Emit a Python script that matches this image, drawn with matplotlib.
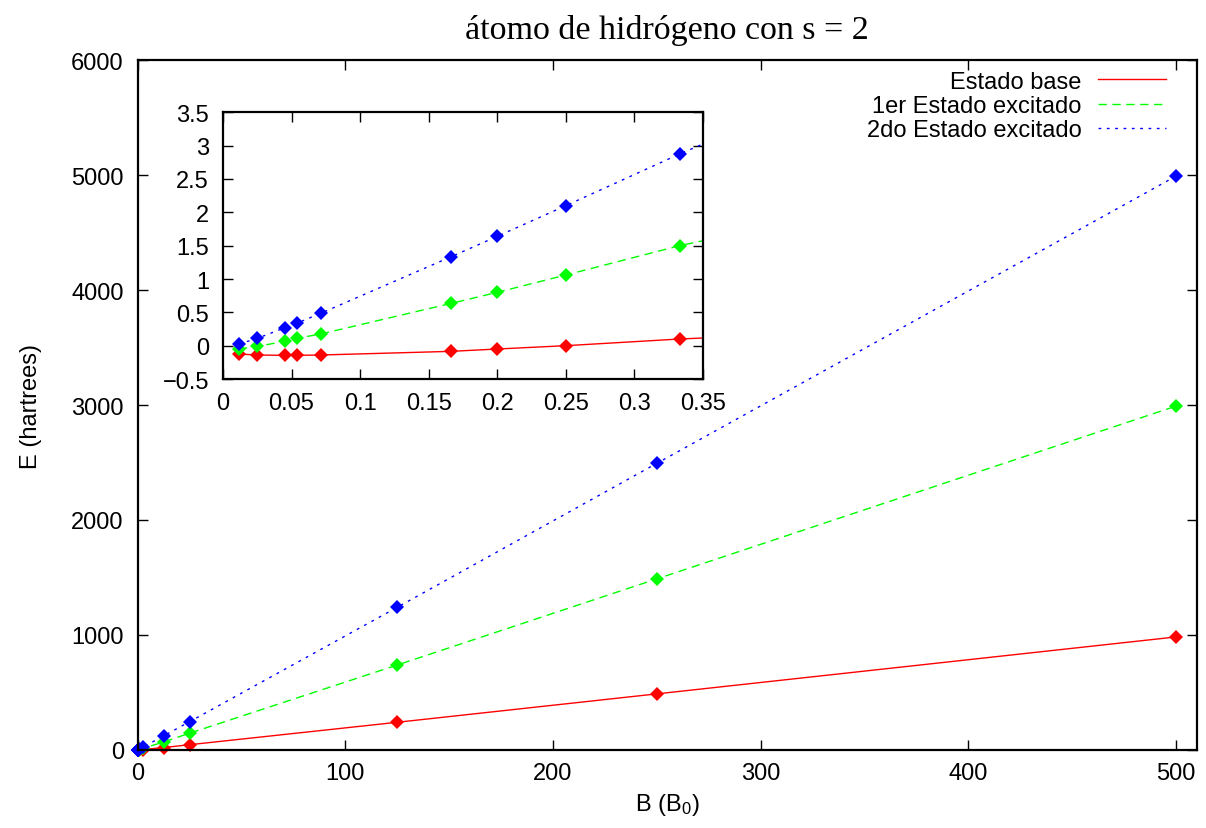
import matplotlib
matplotlib.use("Agg")
import matplotlib.pyplot as plt
from matplotlib.ticker import FuncFormatter

plt.rcParams['font.family'] = ['Liberation Sans', 'DejaVu Sans']
plt.rcParams['mathtext.default'] = 'regular'

# campo magnetico B (en unidades de B0)
B = [0.0116, 0.025, 0.0453, 0.0537, 0.0712, 0.1665, 0.2, 0.25, 0.333, 0.5,
     2.5, 12.5, 25, 125, 250, 500]

# energias de los tres estados (hartrees)
E_base = [-0.125, -0.14, -0.145, -0.145, -0.14, -0.085, -0.05, 0.0, 0.1, 0.25,
          4, 21, 46, 241, 488, 983]
E_exc1 = [-0.05, -0.01, 0.065, 0.11, 0.175, 0.635, 0.8, 1.06, 1.5, 2.23,
          14, 70, 146, 739, 1488, 2990]
E_exc2 = [0.025, 0.11, 0.27, 0.335, 0.485, 1.335, 1.64, 2.1, 2.875, 4.34,
          24, 123, 246, 1241, 2493, 4990]

series = [
    (E_base, '#ff0000', '-', 'Estado base'),
    (E_exc1, '#00ff00', (0, (6, 4)), '1er Estado excitado'),
    (E_exc2, '#0000ff', (0, (2, 4)), '2do Estado excitado'),
]

FS = 17


def fmt(v, pos):
    return ('%g' % v).replace('-', '\u2212')


def draw(ax, main):
    for y, col, ls, lab in series:
        ax.plot(B, y, color=col, linestyle=ls, lw=1.0,
                label=lab if main else None)
        ax.plot(B, y, linestyle='none', marker='D', markersize=6.8,
                color=col, markeredgewidth=0, clip_on=not main)
    ax.tick_params(direction='in', top=True, right=True, length=7,
                   width=1, labelsize=FS)
    ax.tick_params(axis='y', pad=10)
    ax.tick_params(axis='x', pad=9)
    for sp in ax.spines.values():
        sp.set_linewidth(1.6)


fig = plt.figure(figsize=(12.06, 8.29), dpi=100)

ax = fig.add_axes([0.1142, 0.0941, 0.8781, 0.8323])
draw(ax, True)
ax.set_xlim(0, 510)
ax.set_ylim(0, 6000)
ax.set_xticks(range(0, 501, 100))
ax.set_yticks(range(0, 6001, 1000))
ax.set_xlabel('B (B$_0$)', fontsize=FS, labelpad=5)
ax.set_ylabel('E (hartrees)', fontsize=FS, labelpad=21)
ax.set_title('átomo de hidrógeno con s = 2', fontsize=24.5,
             family=['Liberation Serif', 'DejaVu Serif'], pad=16)
ax.legend(loc='upper right', bbox_to_anchor=(0.9757, 0.9913),
          frameon=False, markerfirst=False, fontsize=FS,
          handlelength=2.9, labelspacing=0.1, borderpad=0.2,
          borderaxespad=0.0, handletextpad=0.7)

ins = fig.add_axes([0.1849, 0.5416, 0.398, 0.3217])
draw(ins, False)
ins.set_xlim(0, 0.35)
ins.set_ylim(-0.5, 3.5)
ins.set_xticks([0, 0.05, 0.1, 0.15, 0.2, 0.25, 0.3, 0.35])
ins.set_yticks([-0.5, 0, 0.5, 1, 1.5, 2, 2.5, 3, 3.5])
ins.xaxis.set_major_formatter(FuncFormatter(fmt))
ins.yaxis.set_major_formatter(FuncFormatter(fmt))

fig.savefig('out.png', dpi=100)
